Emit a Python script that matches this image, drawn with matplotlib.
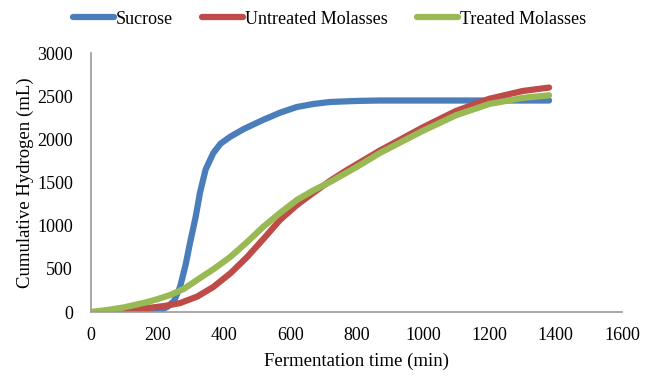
import numpy as np
import matplotlib.pyplot as plt

plt.rcParams['font.family'] = ['Liberation Serif', 'DejaVu Serif']

# (time in min, hydrogen in mL)
suc_t = [0, 50, 100, 150, 200, 230, 250, 268, 285, 298, 315, 328, 345, 368, 390, 419, 460, 518, 570, 620, 670, 720, 800, 870, 1000, 1200, 1380]
suc_h = [0, -10, -15, -10, 10, 60, 130, 290, 550, 800, 1100, 1380, 1650, 1840, 1950, 2030, 2120, 2225, 2310, 2375, 2410, 2433, 2445, 2450, 2450, 2450, 2450]

unt_t = [0, 50, 100, 169, 220, 268, 320, 368, 420, 470, 520, 569, 620, 669, 720, 771, 870, 1000, 1100, 1200, 1300, 1380]
unt_h = [0, 5, 15, 46, 70, 104, 180, 290, 450, 637, 850, 1066, 1240, 1379, 1520, 1645, 1870, 2140, 2330, 2470, 2560, 2600]

trt_t = [0, 50, 100, 169, 200, 238, 280, 319, 370, 419, 470, 518, 570, 620, 670, 720, 800, 870, 1000, 1100, 1200, 1300, 1380]
trt_h = [0, 25, 55, 116, 150, 197, 270, 371, 500, 637, 810, 985, 1150, 1298, 1410, 1506, 1680, 1842, 2100, 2280, 2410, 2480, 2510]

fig = plt.figure(figsize=(6.46, 3.76), dpi=100)
ax = fig.add_axes([0.141, 0.170, 0.822, 0.689])

ax.plot(suc_t, suc_h, color='#4a7ebb', lw=4.5, label='Sucrose', solid_capstyle='round')
ax.plot(unt_t, unt_h, color='#be4b48', lw=4.5, label='Untreated Molasses', solid_capstyle='round')
ax.plot(trt_t, trt_h, color='#98b954', lw=4.5, label='Treated Molasses', solid_capstyle='round')

ax.set_xlim(0, 1600)
ax.set_ylim(0, 3000)
ax.set_xticks(np.arange(0, 1601, 200))
ax.set_yticks(np.arange(0, 3001, 500))
ax.tick_params(axis='x', length=0, labelsize=13, pad=11)
ax.tick_params(axis='y', length=0, labelsize=13, pad=13)
for s in ['top', 'right']:
    ax.spines[s].set_visible(False)
for s in ['left', 'bottom']:
    ax.spines[s].set_color('#999999')
    ax.spines[s].set_linewidth(1.2)

ax.set_xlabel('Fermentation time (min)', fontsize=13.5, labelpad=6)
ax.set_ylabel('Cumulative Hydrogen (mL)', fontsize=13.5, labelpad=2)

fig.legend(loc='upper center', bbox_to_anchor=(0.51, 1.015), ncol=3, frameon=False,
           fontsize=13, handlelength=2.3, handletextpad=0.1, columnspacing=1.6)

fig.savefig('out.png', dpi=100)
